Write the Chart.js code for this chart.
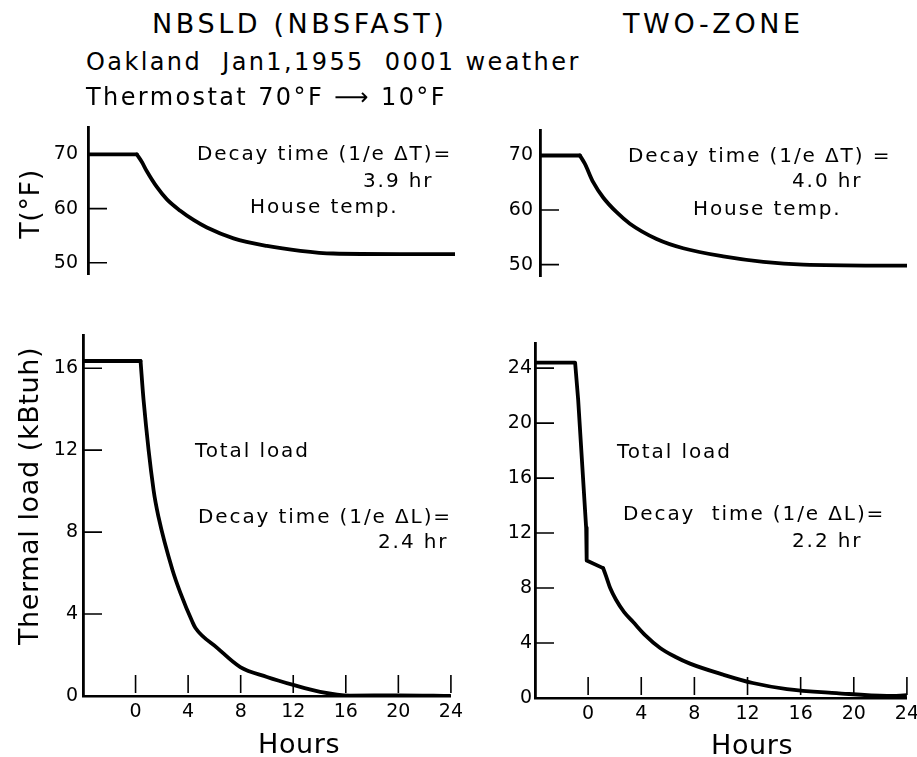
<!DOCTYPE html>
<html lang="en">
<head>
<meta charset="UTF-8">
<title>NBSLD vs Two-zone setback decay</title>
<script src="https://cdn.jsdelivr.net/npm/chart.js"></script>
<style>
    body { margin: 0; background: #fff; }
    #page { position: relative; width: 917px; height: 757px; overflow: hidden;
            font-family: "DejaVu Sans", sans-serif; color: #000; }
    #page canvas { position: absolute; }
    .txt { position: absolute; white-space: pre; line-height: 1; }
    .title { font-size: 27px; letter-spacing: 3.6px; }
    .sub { font-size: 24px; letter-spacing: 2.4px; }
    .note { font-size: 20px; letter-spacing: 1.9px; }
    .axis { font-size: 27px; letter-spacing: 0.6px; }
    .rot { transform: translate(-50%, -50%) rotate(-90deg); }
</style>
</head>
<body>
<div id="page">
    <canvas id="tl"></canvas>
    <canvas id="tr"></canvas>
    <canvas id="bl"></canvas>
    <canvas id="br"></canvas>

    <div class="txt title" style="left:152px; top:10px;">NBSLD (NBSFAST)</div>
    <div class="txt title" style="left:623px; top:10px;">TWO-ZONE</div>
    <div class="txt sub" style="left:86px; top:50px;">Oakland  Jan1,1955  0001 weather</div>
    <div class="txt sub" style="left:86px; top:85px;">Thermostat 70°F ⟶ 10°F</div>

    <div class="txt note" style="left:197px; top:143px;">Decay time (1/e ΔT)=</div>
    <div class="txt note" style="left:363px; top:170px;">3.9 hr</div>
    <div class="txt note" style="left:250px; top:196px;">House temp.</div>

    <div class="txt note" style="left:628px; top:145px;">Decay time (1/e ΔT) =</div>
    <div class="txt note" style="left:792px; top:170px;">4.0 hr</div>
    <div class="txt note" style="left:693px; top:198px;">House temp.</div>

    <div class="txt note" style="left:195px; top:440px;">Total load</div>
    <div class="txt note" style="left:198px; top:506px;">Decay time (1/e ΔL)=</div>
    <div class="txt note" style="left:378px; top:531px;">2.4 hr</div>

    <div class="txt note" style="left:617px; top:441px;">Total load</div>
    <div class="txt note" style="left:623px; top:503px;">Decay  time (1/e ΔL)=</div>
    <div class="txt note" style="left:792px; top:530px;">2.2 hr</div>

    <div class="txt axis rot" style="left:29px; top:204px;">T(°F)</div>
    <div class="txt axis rot" style="left:28px; top:496px;">Thermal load (kBtuh)</div>
    <div class="txt axis" style="left:258px; top:730px;">Hours</div>
    <div class="txt axis" style="left:711px; top:731px;">Hours</div>
</div>

<script>
    // hours after setback
    const hourTicks = [0, 4, 8, 12, 16, 20, 24];
    const tempTicks = [50, 60, 70];
    const loadTicksLeft = [0, 4, 8, 12, 16];
    const loadTicksRight = [0, 4, 8, 12, 16, 20, 24];

    // NBSLD house temperature (F): held at 70, then decay
    const hoursTempLHeld = [-3.6, 0.13];
    const tempLHeld      = [70, 70];
    const hoursTempL = [0.13, 0.51, 0.89, 1.65, 2.42, 3.44, 4.45, 5.47, 7.5, 10.05, 12.6, 15.1, 20.2, 24.4];
    const tempL      = [70, 68.6, 66.9, 64.0, 61.7, 59.6, 57.9, 56.5, 54.5, 53.1, 52.2, 51.7, 51.6, 51.6];

    // two-zone house temperature (F)
    const hoursTempRHeld = [-3.6, -0.6];
    const tempRHeld      = [70, 70];
    const hoursTempR = [-0.6, -0.23, 0.4, 1.15, 2.16, 3.16, 5.17, 7.17, 10.18, 13.2, 16.2, 24];
    const tempR      = [70, 68.5, 65.1, 62.3, 59.6, 57.5, 54.7, 53.0, 51.5, 50.5, 50.0, 49.8];

    // NBSLD total load (kBtuh)
    const hoursLoadLHeld = [-4, 0.38];
    const loadLHeld      = [16.35, 16.35];
    const hoursLoadL = [0.38, 0.61, 1.37, 1.75, 2.81, 3.42, 4.33, 4.56, 6.23, 7.97, 10.0, 12.0, 14.05, 16.3, 20, 24];
    const loadL      = [16.35, 14.44, 10.05, 8.73, 6.15, 5.02, 3.61, 3.32, 2.34, 1.41, 0.93, 0.54, 0.2, 0.02, 0.03, 0.0];

    // two-zone total load (kBtuh): step drop, then decay
    const hoursLoadRHeld = [-4, -0.98, -0.75, -0.15, -0.11, 1.13];
    const loadRHeld      = [24.4, 24.4, 21.7, 12.4, 10.0, 9.45];
    const hoursLoadR = [1.13, 1.35, 1.66, 2.11, 2.71, 3.39, 4.29, 5.42, 6.55, 7.67, 10.16, 12.4, 14.97, 18.7, 22.5, 24];
    const loadR      = [9.45, 8.87, 8.0, 7.13, 6.25, 5.53, 4.58, 3.64, 3.0, 2.5, 1.7, 1.09, 0.65, 0.36, 0.15, 0.2];

    Chart.defaults.font.family = '"DejaVu Sans", sans-serif';
    Chart.defaults.color = '#000';

    // tick marks point into the plot, like the hand-drawn axes
    const innerTicks = {
        id: 'innerTicks',
        afterDraw(chart) {
            const { ctx, chartArea: a, scales: { x, y } } = chart;
            ctx.save();
            ctx.strokeStyle = '#000';
            ctx.lineWidth = 1.6;
            ctx.beginPath();
            y.ticks.forEach(t => {
                const py = y.getPixelForValue(t.value);
                ctx.moveTo(a.left, py);
                ctx.lineTo(a.left + 19, py);
            });
            if (x.options.display) {
                x.ticks.forEach(t => {
                    const px = x.getPixelForValue(t.value);
                    ctx.moveTo(px, a.bottom - 3);
                    ctx.lineTo(px, a.bottom - 21);
                });
            }
            ctx.stroke();
            ctx.restore();
        }
    };

    function lineSet(xs, ys, smooth) {
        return {
            data: xs.map((x, i) => ({ x: x, y: ys[i] })),
            borderColor: '#000',
            borderWidth: 3.8,
            borderCapStyle: 'round',
            borderJoinStyle: 'round',
            pointRadius: 0,
            tension: 0,
            cubicInterpolationMode: smooth ? 'monotone' : 'default',
            fill: false
        };
    }

    function buildConfig(sets, xRange, yRange, yTicks, showX, labelPad) {
        return {
            type: 'line',
            data: { datasets: sets.map(s => lineSet(s[0], s[1], s[2])) },
            options: {
                responsive: false,
                maintainAspectRatio: false,
                animation: false,
                layout: { padding: 0 },
                plugins: { legend: { display: false }, tooltip: { enabled: false } },
                scales: {
                    x: {
                        type: 'linear',
                        min: xRange[0],
                        max: xRange[1],
                        display: showX,
                        afterBuildTicks: s => { s.ticks = hourTicks.map(v => ({ value: v })); },
                        afterFit: s => { s.height = showX ? 40 : 0; },
                        grid: { display: false, drawTicks: false },
                        border: { display: true, color: '#000', width: 2.5 },
                        ticks: { padding: 5, font: { size: 19 }, color: '#000', maxRotation: 0, autoSkip: false }
                    },
                    y: {
                        type: 'linear',
                        min: yRange[0],
                        max: yRange[1],
                        afterBuildTicks: s => { s.ticks = yTicks.map(v => ({ value: v })); },
                        afterFit: s => { s.width = 60; },
                        grid: { display: false, drawTicks: false },
                        border: { display: true, color: '#000', width: 2.8 },
                        ticks: { padding: labelPad, font: { size: 19 }, color: '#000', autoSkip: false }
                    }
                }
            },
            plugins: [innerTicks]
        };
    }

    // build once to learn the margins round the plot area, then size the canvas
    // so the plot area lands on the box
    function makeChart(id, box, sets, xRange, yRange, yTicks, showX, labelPad) {
        const cv = document.getElementById(id);
        cv.width = 500;
        cv.height = 400;
        const probe = new Chart(cv, buildConfig(sets, xRange, yRange, yTicks, showX, labelPad));
        const a = probe.chartArea;
        const mL = a.left, mT = a.top, mR = 500 - a.right, mB = 400 - a.bottom;
        probe.destroy();

        cv.width = Math.round(box.r - box.l + mL + mR);
        cv.height = Math.round(box.b - box.t + mT + mB);
        cv.style.left = (box.l - mL) + 'px';
        cv.style.top = (box.t - mT) + 'px';
        return new Chart(cv, buildConfig(sets, xRange, yRange, yTicks, showX, labelPad));
    }

    makeChart('tl', { l: 88, r: 455, t: 127, b: 274 },
        [[hoursTempLHeld, tempLHeld, false], [hoursTempL, tempL, true]],
        [-3.6, 24.4], [47.8, 75], tempTicks, false, 10);
    makeChart('tr', { l: 540, r: 907, t: 130, b: 276 },
        [[hoursTempRHeld, tempRHeld, false], [hoursTempR, tempR, true]],
        [-3.6, 24], [47.8, 74.6], tempTicks, false, 7);
    makeChart('bl', { l: 83, r: 451, t: 335, b: 696 },
        [[hoursLoadLHeld, loadLHeld, false], [hoursLoadL, loadL, true]],
        [-4, 24], [0, 17.6], loadTicksLeft, true, 5);
    makeChart('br', { l: 535, r: 907, t: 343, b: 698 },
        [[hoursLoadRHeld, loadRHeld, false], [hoursLoadR, loadR, true]],
        [-4, 24], [0, 25.8], loadTicksRight, true, 3);
</script>
</body>
</html>
